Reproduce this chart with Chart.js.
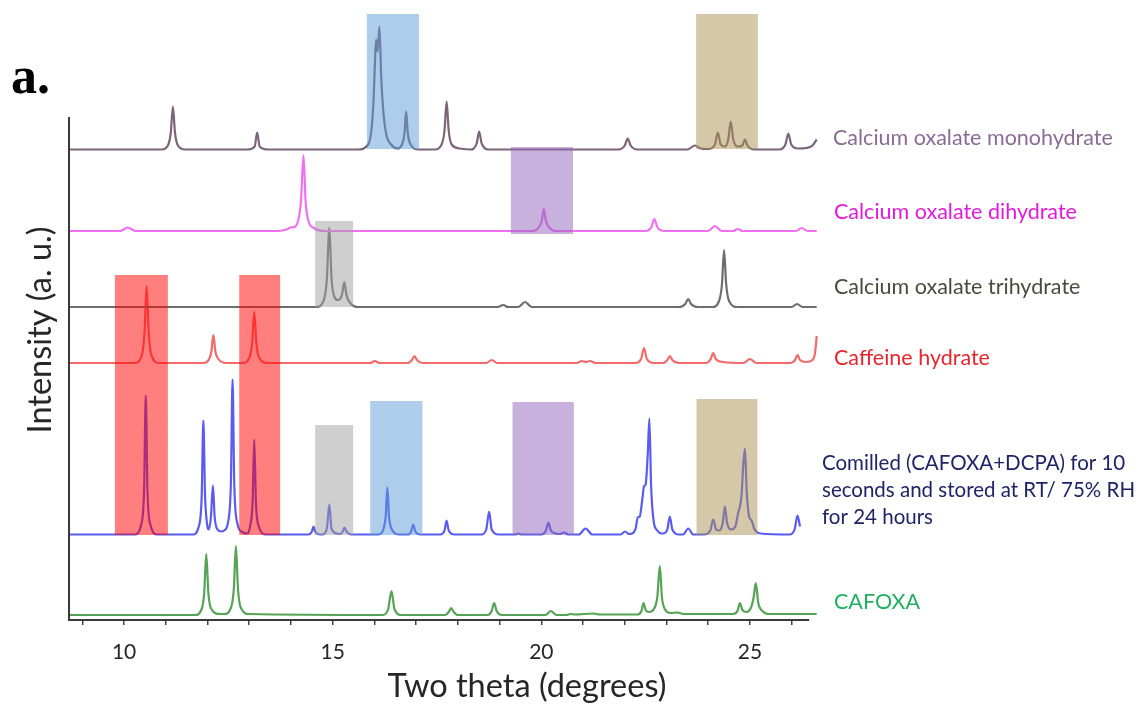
<!DOCTYPE html>
<html>
<head>
<meta charset="utf-8">
<script src="https://cdn.jsdelivr.net/npm/chart.js@4.4.1/dist/chart.umd.min.js"></script>
<style>
  html,body{margin:0;padding:0;background:#fff;}
  #wrap{width:1140px;height:705px;position:relative;}
</style>
</head>
<body>
<div id="wrap"><canvas id="xrd"></canvas></div>
<script>
  // ── DATA ──────────────────────────────────────────────────────────────────
  // [two theta (deg), intensity above the trace's own baseline (a.u.)]
  const monoPts = [
    [8.68,0],[10.9,0],[11.05,4],[11.12,17],[11.17,43],[11.22,17],[11.29,4],[11.47,0],
    [12.95,0],[13.13,3],[13.19,17],[13.25,3],[13.45,0],
    [15.6,0],[15.85,5],[15.93,20],[15.98,50],[16.02,95],[16.04,110],[16.075,98],[16.12,123],[16.16,75],[16.21,40],[16.28,16],[16.4,5],[16.55,1],
    [16.66,5],[16.72,16],[16.76,38],[16.8,16],[16.87,5],[17.05,0],
    [17.45,0],[17.61,5],[17.68,19],[17.73,48],[17.78,19],[17.85,5],[18.05,1],
    [18.3,0],[18.45,6],[18.51,18],[18.57,6],[18.75,0],
    [21.85,0],[22.0,4],[22.07,11],[22.14,4],[22.3,0],
    [23.5,0],[23.68,4],[23.82,1],
    [24.0,0.5],[24.16,5],[24.23,17],[24.3,5],[24.4,3],[24.48,10],[24.54,28],[24.6,10],[24.72,3],[24.82,4],[24.88,10],[24.94,4],[25.1,0],
    [25.7,0],[25.85,5],[25.92,16],[25.99,5],[26.15,1],
    [26.35,1.5],[26.5,4],[26.6,10]
  ];
  const diPts = [
    [8.68,0],[9.9,0],[10.09,3.5],[10.28,0],
    [13.7,0],[13.92,2],[13.98,3.5],[14.08,4],[14.17,10],[14.24,30],[14.3,76],[14.35,30],[14.42,10],[14.55,3],[14.8,0],
    [19.8,0],[19.96,5],[20.01,10],[20.06,22],[20.11,10],[20.18,4],[20.35,0],
    [22.5,0],[22.64,4],[22.71,12],[22.78,4],[22.95,0],
    [24.0,0],[24.16,5],[24.32,0],
    [24.6,0],[24.71,2],[24.82,0],
    [26.1,0],[26.24,3],[26.38,0],[26.6,0]
  ];
  const triPts = [
    [8.68,0],[14.6,0],[14.78,6],[14.86,28],[14.92,79],[14.97,30],[15.04,10],[15.13,7],[15.22,12],[15.28,25],[15.33,12],[15.42,4],[15.6,0],
    [18.95,0],[19.09,2],[19.2,0],
    [19.45,0],[19.61,5],[19.77,0],
    [23.3,0],[23.45,3],[23.52,8],[23.59,3],[23.75,0],
    [24.1,0],[24.26,6],[24.33,23],[24.38,57],[24.43,23],[24.5,6],[24.7,0],
    [26.0,0],[26.13,3],[26.26,0],[26.6,0]
  ];
  const cafPts = [
    [8.68,0],[10.25,0],[10.42,7],[10.49,30],[10.54,77],[10.59,30],[10.66,7],[10.85,0],
    [11.9,0],[12.04,4],[12.09,11],[12.14,28],[12.19,11],[12.26,4],[12.45,0],
    [12.85,0],[13.0,5],[13.07,20],[13.12,51],[13.17,20],[13.24,5],[13.45,0],
    [15.9,0],[16.01,2],[16.12,0],
    [16.8,0],[16.9,3],[16.96,7],[17.02,3],[17.15,0],
    [18.68,0],[18.81,3],[18.94,0],
    [20.85,0],[20.97,2],[21.07,1],[21.17,2],[21.3,0],
    [22.25,0],[22.39,4],[22.46,15],[22.53,4],[22.7,0],
    [22.92,0],[23.02,3],[23.08,7],[23.14,3],[23.3,0],
    [23.95,0],[24.06,4],[24.12,10],[24.18,4],[24.35,1],
    [24.85,0],[25.0,4],[25.15,0],
    [25.98,0],[26.08,3],[26.14,8],[26.2,3],[26.35,1],
    [26.5,3],[26.56,10],[26.6,27]
  ];
  const comPts = [
    [8.68,0],[10.25,0],[10.41,10],[10.48,45],[10.52,139],[10.56,45],[10.63,10],[10.8,0],
    [11.65,0],[11.79,8],[11.86,38],[11.9,114],[11.94,40],[11.99,10],[12.03,5],[12.08,17],[12.13,49],[12.17,18],[12.24,5],[12.33,3],
    [12.4,4],[12.49,12],[12.56,52],[12.6,155],[12.64,52],[12.71,12],[12.85,2],
    [12.95,1],[13.02,8],[13.08,32],[13.12,95],[13.16,32],[13.23,8],[13.4,0],
    [14.42,0],[14.5,3],[14.54,8],[14.58,3],[14.7,0],
    [14.75,0],[14.86,6],[14.92,30],[14.97,6],[15.1,1],
    [15.18,0.5],[15.24,3],[15.28,7],[15.33,3],[15.45,0],
    [16.1,0],[16.22,6],[16.27,18],[16.31,47],[16.35,18],[16.42,5],[16.6,0],
    [16.8,0],[16.88,3],[16.93,10],[16.98,3],[17.1,0],
    [17.58,0],[17.68,4],[17.73,14],[17.78,4],[17.92,0],
    [18.56,0],[18.68,5],[18.75,23],[18.81,5],[18.98,0],
    [19.38,0],[19.45,1],[19.52,0],
    [20.0,0],[20.11,4],[20.17,12],[20.23,4],[20.35,1],
    [20.45,0.5],[20.54,2],[20.65,0],
    [20.9,0],[21.06,6],[21.22,0],
    [21.9,0],[22.01,3],[22.1,0.5],
    [22.18,1],[22.26,6],[22.31,17],[22.36,18],[22.42,35],[22.46,48],[22.5,50],[22.55,80],[22.59,116],[22.63,50],[22.69,14],[22.78,4],[22.88,1],
    [22.92,1],[23.02,5],[23.08,18],[23.14,5],[23.3,0],
    [23.4,0],[23.52,6],[23.64,0],
    [23.9,0],[24.05,4],[24.12,15],[24.19,5],[24.27,4],[24.35,12],[24.4,28],[24.45,12],[24.55,5],[24.65,8],[24.72,22],[24.76,28],[24.8,40],[24.84,70],[24.88,86],[24.92,45],[24.98,18],[25.04,14],[25.1,6],[25.25,1],
    [25.95,0],[26.07,5],[26.14,19],[26.2,8]
  ];
  const cafoxaPts = [
    [8.68,0],[11.7,0],[11.86,6],[11.92,22],[11.97,61],[12.02,22],[12.09,6],[12.3,1],
    [12.4,1],[12.56,7],[12.63,26],[12.68,69],[12.73,26],[12.8,7],[13.0,1],
    [16.2,0],[16.33,6],[16.41,24],[16.48,6],[16.65,0],
    [17.7,0],[17.78,3],[17.84,7],[17.9,3],[18.0,0],
    [18.72,0],[18.81,4],[18.87,12],[18.93,4],[19.05,0],
    [20.1,0],[20.23,4],[20.36,0],
    [20.6,0],[20.7,1],[20.8,0.5],[21.25,1.5],[21.4,0.5],
    [22.3,0.5],[22.4,4],[22.45,12],[22.5,5],[22.58,3],[22.7,6],[22.78,18],[22.84,49],[22.89,18],[22.96,6],[23.1,2],
    [23.27,2.5],[23.4,1],
    [24.6,1],[24.7,4],[24.76,12],[24.82,5],[24.92,3],[25.03,8],[25.09,18],[25.14,32],[25.2,12],[25.3,4],[25.45,1],
    [26.6,1]
  ];

  const traces      = [monoPts, diPts, triPts, cafPts, comPts, cafoxaPts];
  const traceOffsets = [470.5, 389, 313, 257, 85.5, 5];
  const traceNames  = [
    'Calcium oxalate monohydrate',
    'Calcium oxalate dihydrate',
    'Calcium oxalate trihydrate',
    'Caffeine hydrate',
    'Comilled (CAFOXA+DCPA) for 10 seconds and stored at RT/ 75% RH for 24 hours',
    'CAFOXA'
  ];
  const xTickLabels = [10, 15, 20, 25];

  // highlighted reflections: [from 2θ, to 2θ, bottom, top]
  const boxes = [
    [15.82, 17.07, 471, 606],
    [23.71, 25.19, 471, 606],
    [19.27, 20.76, 386, 473],
    [14.58, 15.49, 313, 399],
    [9.78, 11.05, 85, 345],
    [12.76, 13.74, 85, 345],
    [14.58, 15.49, 85, 195],
    [15.90, 17.15, 85, 219],
    [19.31, 20.78, 85, 218],
    [23.72, 25.18, 85, 221]
  ];

  // ── STYLE ─────────────────────────────────────────────────────────────────
  const X_MIN = 8.68, X_MAX = 26.6, X_AXIS_END = 26.42, Y_AXIS_TOP = 503;
  const lineColors  = ['#7d6478', '#f070f0', '#6e6e6e', '#f36a6a', '#5a5cf0', '#55a455'];
  const labelColors = ['#8a6a96', '#e21ad8', '#4a4a3c', '#e5262e', '#1f2466', '#20b060'];
  const boxColors   = [
    'rgba(91,155,213,0.5)', 'rgba(170,146,84,0.5)', 'rgba(146,100,186,0.5)', 'rgba(160,160,160,0.5)',
    'rgba(255,0,0,0.5)', 'rgba(255,0,0,0.5)', 'rgba(160,160,160,0.5)', 'rgba(91,155,213,0.5)',
    'rgba(146,100,186,0.5)', 'rgba(170,146,84,0.5)'
  ];
  // label: left x, baselines (px), font size
  const labelPos = [
    {x:833, y:[145], size:21.5},
    {x:834, y:[219], size:21.5},
    {x:834, y:[294], size:21.5},
    {x:834, y:[365], size:21.5},
    {x:822, y:[470, 497, 524], size:20.5, lines:['Comilled (CAFOXA+DCPA) for 10','seconds and stored at RT/ 75% RH','for 24 hours']},
    {x:834, y:[609], size:21.5}
  ];
  const FONT = 'Lato';

  // ── OVERLAY: boxes, axis lines, texts ─────────────────────────────────────
  const overlay = {
    id: 'overlay',
    afterDatasetsDraw(chart) {
      const {ctx, scales:{x, y}} = chart;
      ctx.save();
      boxes.forEach((b, i) => {
        const x0 = x.getPixelForValue(b[0]), x1 = x.getPixelForValue(b[1]);
        const y0 = y.getPixelForValue(b[2]), y1 = y.getPixelForValue(b[3]);
        ctx.fillStyle = boxColors[i];
        ctx.fillRect(x0, y1, x1 - x0, y0 - y1);
      });
      ctx.restore();
    },
    afterDraw(chart) {
      const {ctx, scales:{x, y}} = chart;
      ctx.save();
      // axis lines
      ctx.strokeStyle = '#3a3a3a';
      ctx.lineWidth = 2;
      ctx.beginPath();
      ctx.moveTo(x.getPixelForValue(X_MIN), y.getPixelForValue(Y_AXIS_TOP));
      ctx.lineTo(x.getPixelForValue(X_MIN), y.getPixelForValue(0));
      ctx.lineTo(x.getPixelForValue(X_AXIS_END), y.getPixelForValue(0));
      ctx.stroke();

      // panel letter
      ctx.fillStyle = '#000';
      ctx.font = 'bold 52px "Liberation Serif"';
      ctx.textAlign = 'left';
      ctx.textBaseline = 'alphabetic';
      ctx.fillText('a.', 11, 93);

      // axis titles
      ctx.fillStyle = '#262626';
      ctx.font = `32.5px ${FONT}`;
      ctx.textAlign = 'center';
      ctx.fillText('Two theta (degrees)', 527, 697);
      ctx.save();
      ctx.translate(51, 330);
      ctx.rotate(-Math.PI / 2);
      ctx.fillText('Intensity (a. u.)', 0, 0);
      ctx.restore();

      // trace labels
      ctx.textAlign = 'left';
      labelPos.forEach((p, i) => {
        ctx.fillStyle = labelColors[i];
        ctx.font = `${p.size}px ${FONT}`;
        const lines = p.lines || [traceNames[i]];
        lines.forEach((t, k) => ctx.fillText(t, p.x, p.y[k]));
      });
      ctx.restore();
    }
  };

  // ── CHART ─────────────────────────────────────────────────────────────────
  const datasets = traces.map((pts, i) => ({
    label: traceNames[i],
    data: pts.map(([tt, v]) => ({x: tt, y: v + traceOffsets[i]})),
    borderColor: lineColors[i],
    borderWidth: 2.2,
    pointRadius: 0,
    fill: false,
    cubicInterpolationMode: 'monotone',
    clip: false,
  }));

  new Chart(document.getElementById('xrd'), {
    type: 'line',
    data: { datasets },
    options: {
      responsive: true,
      maintainAspectRatio: false,
      animation: false,
      layout: { padding: { left: 69, right: 323.3, top: 10, bottom: 0 } },
      plugins: { legend: { display: false }, tooltip: { enabled: false } },
      scales: {
        x: {
          type: 'linear',
          min: X_MIN, max: X_MAX,
          afterFit: s => { s.height = 85; },
          border: { display: false },
          grid: { drawOnChartArea: false, drawTicks: true, tickLength: 5, color: '#444', lineWidth: 1.5 },
          ticks: {
            stepSize: 1, includeBounds: false, autoSkip: false, maxRotation: 0, padding: 15,
            color: '#262626', font: { family: FONT, size: 21 },
            callback: v => xTickLabels.includes(v) ? String(v) : ''
          }
        },
        y: { display: false, min: 0, max: 610 }
      }
    },
    plugins: [overlay]
  });
</script>
</body>
</html>
